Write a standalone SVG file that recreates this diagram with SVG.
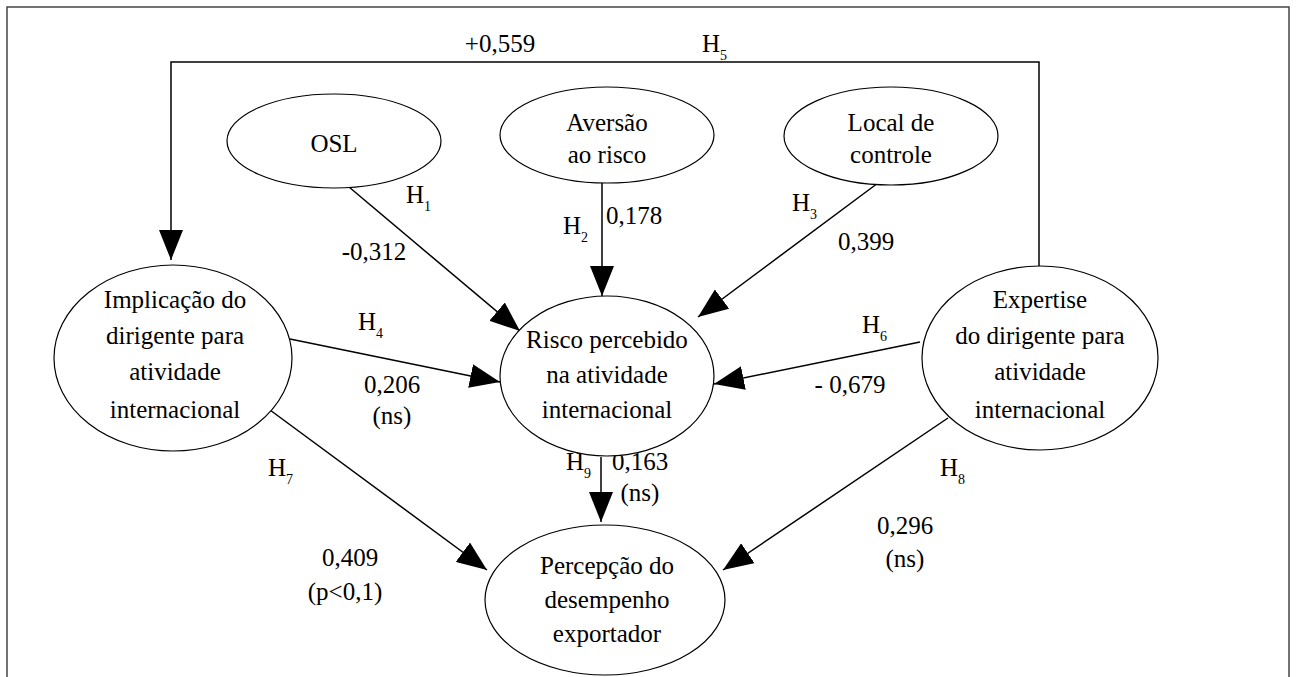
<svg xmlns="http://www.w3.org/2000/svg" width="1298" height="677" viewBox="0 0 1298 677">
<defs>
<marker id="ah" markerWidth="30" markerHeight="24" refX="30" refY="12" orient="auto" markerUnits="userSpaceOnUse">
<path d="M0,0 L30,12 L0,24 Z" fill="#000"/>
</marker>
<style>
.n{fill:#fff;stroke:#000;stroke-width:1.2}
.e{fill:none;stroke:#000;stroke-width:1.5}
.a{marker-end:url(#ah)}
text{font-family:'Liberation Serif','DejaVu Serif',serif;font-size:25px;fill:#000}
.c{text-anchor:middle}
.s{font-size:14px}
</style>
</defs>
<rect width="1298" height="677" fill="#fff"/>
<path d="M7,677 V7 H1289 V677" fill="none" stroke="#444" stroke-width="1.5"/>
<g id="connectors">
<path class="e a" d="M1039,307 V62 H171 V260"/>
<path class="e a" d="M349,187 L520,331"/>
<path class="e a" d="M602,183 V296"/>
<path class="e a" d="M878,183 L698,317"/>
<path class="e a" d="M290,339 L500,382"/>
<path class="e a" d="M920,342 L714,384"/>
<path class="e a" d="M270,410 L487,570"/>
<path class="e a" d="M601,457 V522"/>
<path class="e a" d="M948,418 L723,570"/>
</g>
<g id="labels">
<text x="500" y="52" class="c">+0,559</text>
<text x="702" y="52">H<tspan class="s" dy="8">5</tspan></text>
<text x="406" y="203">H<tspan class="s" dy="8">1</tspan></text>
<text x="374" y="260" class="c">-0,312</text>
<text x="563" y="234">H<tspan class="s" dy="8">2</tspan></text>
<text x="634" y="224" class="c">0,178</text>
<text x="792" y="211">H<tspan class="s" dy="8">3</tspan></text>
<text x="866" y="250" class="c">0,399</text>
<text x="358" y="330">H<tspan class="s" dy="8">4</tspan></text>
<text x="392" y="393" class="c">0,206</text>
<text x="392" y="424" class="c">(ns)</text>
<text x="862" y="333">H<tspan class="s" dy="8">6</tspan></text>
<text x="850" y="393" class="c">- 0,679</text>
<text x="268" y="476">H<tspan class="s" dy="8">7</tspan></text>
<text x="350" y="566" class="c">0,409</text>
<text x="345" y="600" class="c">(p&lt;0,1)</text>
<text x="566" y="470">H<tspan class="s" dy="8">9</tspan></text>
<text x="640" y="470" class="c">0,163</text>
<text x="640" y="501" class="c">(ns)</text>
<text x="940" y="476">H<tspan class="s" dy="8">8</tspan></text>
<text x="905" y="534" class="c">0,296</text>
<text x="905" y="567" class="c">(ns)</text>
</g>
<g id="osl">
<ellipse class="n" cx="334" cy="141" rx="107" ry="47"/>
<text x="334" y="152" class="c">OSL</text>
</g>
<g id="aversao">
<ellipse class="n" cx="607" cy="135" rx="107" ry="48"/>
<text x="607" y="131" class="c">Aversão</text>
<text x="607" y="163" class="c">ao risco</text>
</g>
<g id="local">
<ellipse class="n" cx="891" cy="136" rx="107" ry="49"/>
<text x="891" y="131" class="c">Local de</text>
<text x="891" y="163" class="c">controle</text>
</g>
<g id="implicacao">
<ellipse class="n" cx="173" cy="358" rx="119" ry="93"/>
<text x="175" y="308" class="c">Implicação do</text>
<text x="175" y="344" class="c">dirigente para</text>
<text x="175" y="380" class="c">atividade</text>
<text x="175" y="418" class="c">internacional</text>
</g>
<g id="risco">
<ellipse class="n" cx="607" cy="376" rx="107" ry="80"/>
<text x="607" y="348" class="c">Risco percebido</text>
<text x="607" y="383" class="c">na atividade</text>
<text x="607" y="418" class="c">internacional</text>
</g>
<g id="expertise">
<ellipse class="n" cx="1040" cy="358" rx="118" ry="92"/>
<text x="1040" y="308" class="c">Expertise</text>
<text x="1040" y="344" class="c">do dirigente para</text>
<text x="1040" y="380" class="c">atividade</text>
<text x="1040" y="418" class="c">internacional</text>
</g>
<g id="percepcao">
<ellipse class="n" cx="605" cy="600" rx="120" ry="75"/>
<text x="607" y="574" class="c">Percepção do</text>
<text x="607" y="608" class="c">desempenho</text>
<text x="607" y="642" class="c">exportador</text>
</g>
</svg>
